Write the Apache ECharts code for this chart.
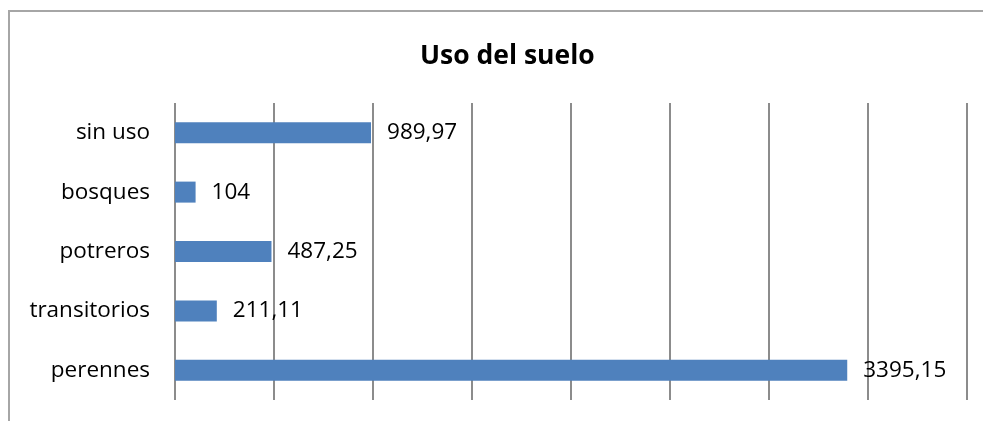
<!DOCTYPE html>
<html>
<head>
<meta charset="utf-8">
<script src="https://cdn.jsdelivr.net/npm/echarts@6/dist/echarts.min.js"></script>
<style>
    html, body { margin: 0; padding: 0; background: #fff; }
    #chart { width: 983px; height: 421px; }
    #frame {
        position: absolute; left: 8px; top: 10px; width: 990px; height: 420px;
        border-left: 2px solid #a6a6a6; border-top: 2px solid #a6a6a6;
        pointer-events: none;
    }
</style>
</head>
<body>
<div id="chart"></div>
<div id="frame"></div>
<script>
    var categories = ['perennes', 'transitorios', 'potreros', 'bosques', 'sin uso'];
    var values = [3395.15, 211.11, 487.25, 104, 989.97];
    var axisMin = 0;
    var axisMax = 4000;
    var axisStep = 500;

    function formatNum(v) {
        return String(v).replace('.', ',');
    }

    var chart = echarts.init(document.getElementById('chart'));
    var option = {
        animation: false,
        backgroundColor: '#fff',
        title: {
            text: 'Uso del suelo',
            left: 415,
            top: 38,
            textStyle: {
                fontFamily: 'Open Sans',
                fontWeight: 'bold',
                fontSize: 26.5,
                color: '#000'
            }
        },
        grid: {
            left: 175,
            right: 16,
            top: 103,
            bottom: 21,
            containLabel: false
        },
        xAxis: {
            type: 'value',
            min: axisMin,
            max: axisMax,
            interval: axisStep,
            axisLine: {show: false},
            axisTick: {show: false},
            axisLabel: {show: false},
            splitLine: {
                show: true,
                lineStyle: {color: '#8c8c8c', width: 2}
            }
        },
        yAxis: {
            type: 'category',
            data: categories,
            axisLine: {show: false},
            axisTick: {show: false},
            axisLabel: {
                margin: 25,
                fontFamily: 'Open Sans',
                fontSize: 22.5,
                color: '#000'
            }
        },
        series: [{
            type: 'bar',
            data: values,
            barWidth: 21,
            itemStyle: {color: '#4f81bd'},
            label: {
                show: true,
                position: 'right',
                distance: 16,
                fontFamily: 'Open Sans',
                fontSize: 22.5,
                color: '#000',
                formatter: function (p) {
                    return formatNum(p.value);
                }
            }
        }]
    };
    chart.setOption(option);
</script>
</body>
</html>
